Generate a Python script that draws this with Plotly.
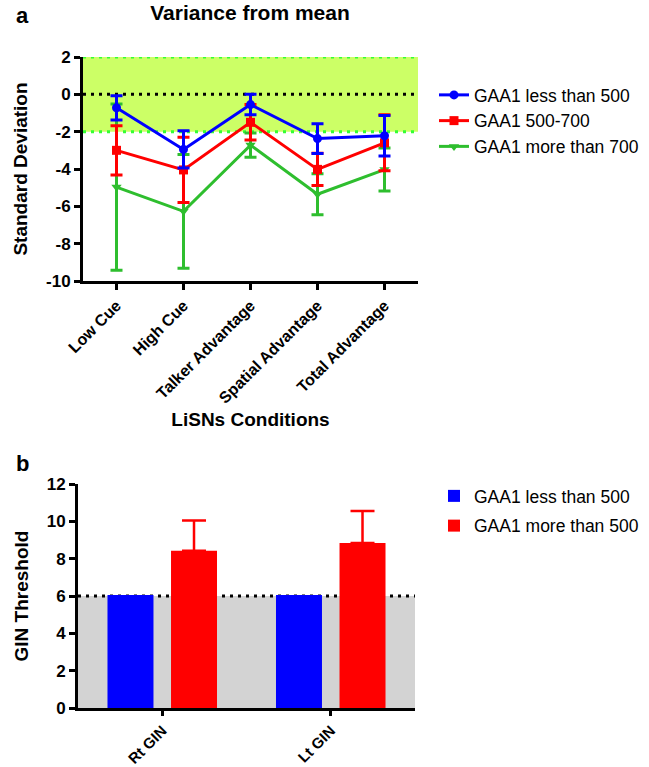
import plotly.graph_objects as go

# ---- Panel a data ----
conditions = ["Low Cue", "High Cue", "Talker Advantage", "Spatial Advantage", "Total Advantage"]
less500_mean = [-0.72, -2.95, -0.55, -2.37, -2.22]
less500_sd = [0.65, 1.0, 0.55, 0.8, 1.08]
mid_mean = [-3.0, -4.05, -1.5, -4.02, -2.6]
mid_sd = [1.32, 1.75, 0.95, 0.87, 1.5]
more700_mean = [-4.97, -6.27, -2.72, -5.35, -4.03]
more700_sd = [4.45, 3.05, 0.65, 1.1, 1.15]
y_ticks_a = [-10, -8, -6, -4, -2, 0, 2]
y_ticktext_a = ["-10", "-8", "-6", "-4", "-2", "0", "2"]

# ---- Panel b data ----
gin_sides = ["Rt GIN", "Lt GIN"]
gin_less500 = [6.05, 6.05]
gin_more500 = [8.43, 8.84]
gin_more500_sd = [1.62, 1.72]
y_ticks_b = [0, 2, 4, 6, 8, 10, 12]

FONT = "Arial, Liberation Sans, sans-serif"
W, H = 649, 767


def px(x):
    return x / W


def py(y):
    return 1 - y / H


BLUE, RED, GREEN = "#0000FF", "#FF0000", "#2EBE2E"

fig = go.Figure()

series = [
    ("GAA1 more than 700", more700_mean, more700_sd, GREEN, "triangle-down", 3),
    ("GAA1 500-700", mid_mean, mid_sd, RED, "square", 2),
    ("GAA1 less than 500", less500_mean, less500_sd, BLUE, "circle", 1),
]
for name, m, sd, col, sym, rank in series:
    fig.add_trace(go.Scatter(
        x=conditions, y=m, name=name, mode="lines+markers",
        line=dict(color=col, width=3),
        marker=dict(color=col, symbol=sym, size=9),
        error_y=dict(type="data", array=sd, visible=True, color=col, thickness=3, width=6),
        xaxis="x", yaxis="y", legend="legend", legendrank=rank,
    ))

fig.add_trace(go.Bar(
    x=gin_sides, y=gin_less500, name="GAA1 less than 500",
    marker=dict(color=BLUE, line=dict(width=0)),
    xaxis="x2", yaxis="y2", legend="legend2", legendgroup="g1",
))
fig.add_trace(go.Bar(
    x=gin_sides, y=gin_more500, name="GAA1 more than 500",
    marker=dict(color=RED, line=dict(width=0)),
    error_y=dict(type="data", symmetric=False, array=gin_more500_sd,
                 arrayminus=[0] * len(gin_more500_sd), visible=True,
                 color=RED, thickness=2.5, width=12),
    xaxis="x2", yaxis="y2", legend="legend2", legendgroup="g2",
))

axis_common = dict(
    showline=True, linewidth=3, linecolor="black", ticks="outside",
    tickwidth=3, tickcolor="black", showgrid=False, zeroline=False,
    automargin=False,
)
xtick_font = dict(family=FONT, size=16, color="black", weight="bold")
xtick_font_b = dict(family=FONT, size=15, color="black", weight="bold")
ytick_font = dict(family=FONT, size=17, color="black", weight="bold")
title_font = dict(family=FONT, size=19, color="black", weight="bold")
dots = "3px,5px"

shapes = [
    dict(type="rect", xref="x domain", yref="y", x0=0, x1=1, y0=-2, y1=2,
         fillcolor="#CCFF66", line=dict(width=0), layer="below"),
    dict(type="line", xref="x domain", yref="y", x0=0, x1=1, y0=2, y1=2,
         line=dict(color="#33FF33", width=3, dash=dots), layer="below"),
    dict(type="line", xref="x domain", yref="y", x0=0, x1=1, y0=-2, y1=-2,
         line=dict(color="#33FF33", width=3, dash=dots), layer="below"),
    dict(type="line", xref="x domain", yref="y", x0=0, x1=1, y0=0, y1=0,
         line=dict(color="black", width=3, dash=dots), layer="below"),
    dict(type="rect", xref="x2 domain", yref="y2", x0=0, x1=1, y0=0, y1=6,
         fillcolor="#D3D3D3", line=dict(width=0), layer="below"),
    dict(type="line", xref="x2 domain", yref="y2", x0=0, x1=1, y0=6, y1=6,
         line=dict(color="black", width=3, dash=dots), layer="below"),
]

fig.update_layout(
    width=W, height=H,
    margin=dict(l=0, r=0, t=0, b=0),
    paper_bgcolor="white", plot_bgcolor="white",
    font=dict(family=FONT, color="black"),
    barmode="group", bargap=0.246, bargroupgap=0.276,
    title=dict(text="Variance from mean", x=px(250), xanchor="center",
               y=py(13), yanchor="middle",
               font=dict(family=FONT, size=21, color="black", weight="bold")),
    xaxis=dict(domain=[px(83), px(418)], anchor="y", tickangle=-45,
               range=[-0.5, 4.5], tickfont=xtick_font, ticklen=6,
               title=dict(text="LiSNs Conditions", font=title_font, standoff=8),
               **axis_common),
    yaxis=dict(domain=[py(281), py(57)], anchor="x", range=[-10, 2],
               tickvals=y_ticks_a, ticktext=y_ticktext_a, tickfont=ytick_font,
               ticklen=6,
               title=dict(text="Standard Deviation", font=title_font, standoff=14),
               **axis_common),
    xaxis2=dict(domain=[px(78), px(415)], anchor="y2", tickangle=-45,
                range=[-0.5, 1.5], tickfont=xtick_font_b, ticklen=5,
                **axis_common),
    yaxis2=dict(domain=[py(708), py(484)], anchor="x2", range=[0, 12],
                tickvals=y_ticks_b, tickfont=ytick_font, ticklen=6,
                title=dict(text="GIN Threshold", font=title_font, standoff=14),
                **axis_common),
    legend=dict(x=px(434), y=py(77), xanchor="left", yanchor="top",
                font=dict(family=FONT, size=17.5, color="black"),
                itemwidth=30, bgcolor="rgba(0,0,0,0)"),
    legend2=dict(x=px(434), y=py(478), xanchor="left", yanchor="top",
                 font=dict(family=FONT, size=17.5, color="black"),
                 itemwidth=30, bgcolor="rgba(0,0,0,0)", tracegroupgap=4),
    shapes=shapes,
    annotations=[
        dict(text="a", x=px(14), y=py(15), xref="paper", yref="paper",
             xanchor="left", yanchor="middle", showarrow=False,
             font=dict(family=FONT, size=22, color="black", weight="bold")),
        dict(text="b", x=px(14), y=py(463), xref="paper", yref="paper",
             xanchor="left", yanchor="middle", showarrow=False,
             font=dict(family=FONT, size=22, color="black", weight="bold")),
    ],
)

fig.write_html("out.html", config={"displayModeBar": False},
               post_script="document.body.style.margin='0px';")
